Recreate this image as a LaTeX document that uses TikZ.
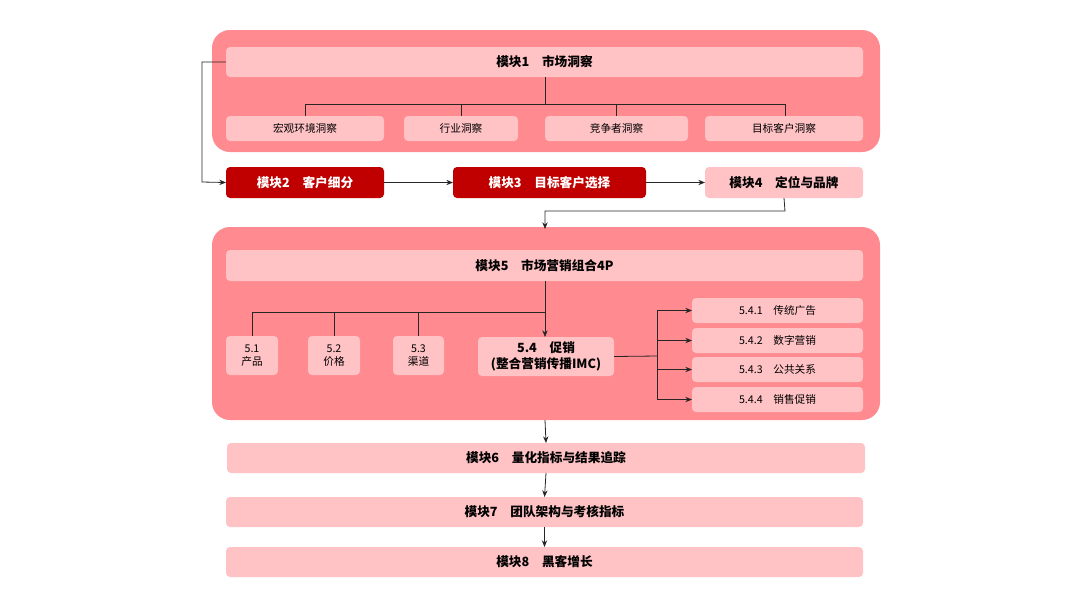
\documentclass[tikz,border=0pt]{standalone}
\usepackage{fontspec}
\setmainfont{Noto Sans CJK SC}
\usetikzlibrary{arrows.meta}
\definecolor{cont}{HTML}{FF8A8F}
\definecolor{lite}{HTML}{FFC2C5}
\definecolor{dark}{HTML}{C00000}
\tikzset{
 container/.style={fill=cont,draw=none,rounded corners=18pt*0.75},
 bar/.style={fill=lite,draw=none,rounded corners=3pt,font=\bfseries\fontsize{9.5}{11}\selectfont,text=black},
 sub/.style={fill=lite,draw=none,rounded corners=3pt,font=\fontsize{8}{10}\selectfont,text=black,align=center},
 darkbox/.style={fill=dark,draw=none,rounded corners=3pt,font=\bfseries\fontsize{9.5}{11}\selectfont,text=white},
 ln/.style={draw=black!85,line width=0.6pt},
 ar/.style={ln,-{Stealth[length=5pt,width=4pt]}}
}
\begin{document}
\begin{tikzpicture}[x=0.75pt,y=-0.75pt]
\useasboundingbox (0,0) rectangle (1080,608);
\def\bx#1#2#3#4#5#6#7{\path[#2] (#3,#4) rectangle (#5,#6) node[pos=.5,#2,fill=none] (#1) {#7};
 \coordinate (#1-n) at ({(#3+#5)/2},#4); \coordinate (#1-s) at ({(#3+#5)/2},#6);
 \coordinate (#1-w) at (#3,{(#4+#6)/2}); \coordinate (#1-e) at (#5,{(#4+#6)/2});}
\path[container] (212,30) rectangle (880,152);
\path[container] (212,227) rectangle (880,420);
\bx{m1}{bar}{226}{47}{863}{77}{模块1\quad 市场洞察}
\bx{a1}{sub}{226}{116}{384}{141}{宏观环境洞察}
\bx{a2}{sub}{404}{116}{518}{141}{行业洞察}
\bx{a3}{sub}{545}{116}{688}{141}{竞争者洞察}
\bx{a4}{sub}{705}{116}{863}{141}{目标客户洞察}
\draw[ln] (545,77) -- (545,104);
\draw[ln] (305,116) -- (305,104) -- (785,104) -- (785,116);
\draw[ln] (461,104) -- (461,116);
\draw[ln] (616,104) -- (616,116);
\bx{m2}{darkbox}{226}{167}{384}{198}{模块2\quad 客户细分}
\bx{m3}{darkbox}{453}{167}{646}{198}{模块3\quad 目标客户选择}
\bx{m4}{bar}{705}{167}{863}{198}{模块4\quad 定位与品牌}
\draw[ar] (m1-w) -- (202,62) -- (202,182) -- (m2-w);
\draw[ar] (m2-e) -- (m3-w);
\draw[ar] (m3-e) -- (m4-w);
\draw[ar] (m4-s) -- (785,211) -- (545,211) -- (545,229);
\bx{m5}{bar}{226}{250}{863}{281}{模块5\quad 市场营销组合4P}
\bx{p1}{sub}{226}{336}{278}{375}{5.1\\产品}
\bx{p2}{sub}{308}{336}{360}{375}{5.2\\价格}
\bx{p3}{sub}{393}{336}{444}{375}{5.3\\渠道}
\bx{p4}{bar}{478}{337}{614}{376}{\shortstack{5.4\quad 促销\\(整合营销传播IMC)}}
\draw[ar] (545,281) -- (545,337);
\draw[ln] (252,336) -- (252,312) -- (545,312);
\draw[ln] (334,312) -- (334,336);
\draw[ln] (418,312) -- (418,336);
\bx{q1}{sub}{692}{298}{863}{323}{5.4.1\quad 传统广告}
\bx{q2}{sub}{692}{328}{863}{353}{5.4.2\quad 数字营销}
\bx{q3}{sub}{692}{357}{863}{382}{5.4.3\quad 公共关系}
\bx{q4}{sub}{692}{387}{863}{412}{5.4.4\quad 销售促销}
\draw[ln] (p4-e) -- (657,356);
\draw[ar] (657,356) |- (q1-w);
\draw[ar] (657,356) |- (q2-w);
\draw[ar] (657,356) |- (q3-w);
\draw[ar] (657,356) |- (q4-w);
\bx{m6}{bar}{227}{443}{865}{473}{模块6\quad 量化指标与结果追踪}
\bx{m7}{bar}{226}{497}{863}{527}{模块7\quad 团队架构与考核指标}
\bx{m8}{bar}{226}{547}{863}{577}{模块8\quad 黑客增长}
\draw[ar] (545,420) -- (m6-n);
\draw[ar] (m6-s) -- (m7-n);
\draw[ar] (m7-s) -- (m8-n);
\end{tikzpicture}
\end{document}
